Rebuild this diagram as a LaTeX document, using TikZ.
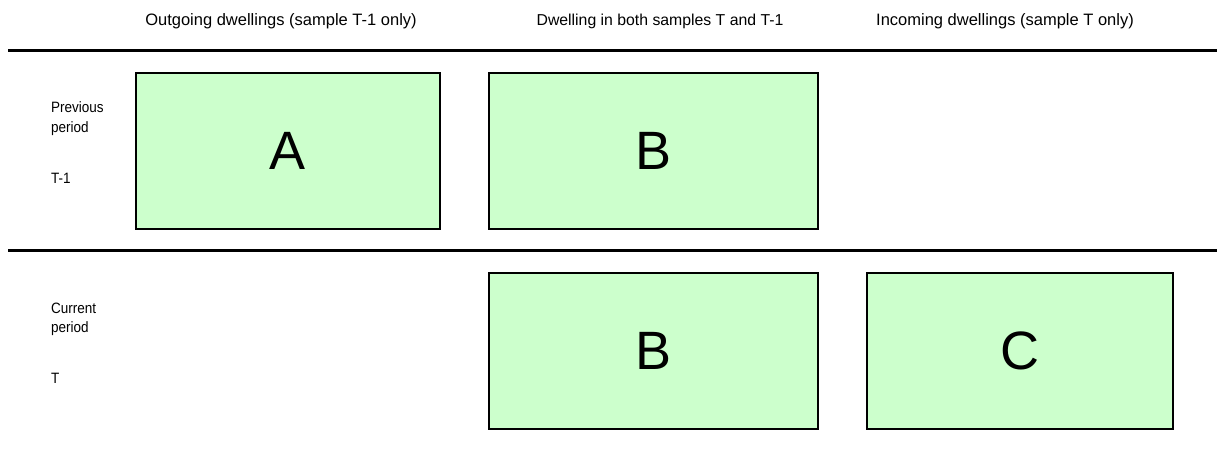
\documentclass[tikz,border=0pt]{standalone}
\usepackage{fontspec}
\setmainfont{Liberation Sans}
\newfontfamily\narrowsans[FakeStretch=0.9]{Liberation Sans}
\definecolor{boxgreen}{HTML}{CCFFCC}
\begin{document}
\begin{tikzpicture}[x=1pt,y=-1pt,
  cell/.style={draw=black,line width=2pt,fill=boxgreen,inner sep=0pt,
    minimum width=#1,minimum height=156pt,font=\fontsize{54}{54}\selectfont},
  cell/.default=330pt,
  head/.style={inner sep=0pt,font=\fontsize{16.5}{20}\selectfont},
  rowlab/.style={inner sep=0pt,anchor=west,font=\narrowsans\fontsize{15}{18}\selectfont},
  rule/.style={line width=3pt}]
\useasboundingbox (0,0) rectangle (1217,450);
% headers
\node[head] (h1) at (281,21) {Outgoing dwellings (sample T-1 only)};
\node[head,font=\fontsize{15.8}{20}\selectfont] (h2) at (660,21) {Dwelling in both samples T and T-1};
\node[head] (h3) at (1005,21) {Incoming dwellings (sample T only)};
% rules
\coordinate (r1a) at (8,50.5);
\coordinate (r1b) at (1217,50.5);
\coordinate (r2a) at (8,250.5);
\coordinate (r2b) at (1217,250.5);
\draw[rule] (r1a) -- (r1b);
\draw[rule] (r2a) -- (r2b);
% row labels
\node[rowlab] (p1) at (51,107) {Previous};
\node[rowlab] (p2) at (51,129) {period};
\node[rowlab] (p3) at (51,178) {T-1};
\node[rowlab] (c1) at (51,308) {Current};
\node[rowlab] (c2) at (51,329) {period};
\node[rowlab] (c3) at (51,378) {T};
% boxes
\node[cell=304pt] (A) at (288,151) {A};
\node[cell=329pt] (B1) at (653.5,151) {B};
\node[cell=329pt] (B2) at (653.5,351) {B};
\node[cell=306pt] (C) at (1020,351) {C};
\end{tikzpicture}
\end{document}
